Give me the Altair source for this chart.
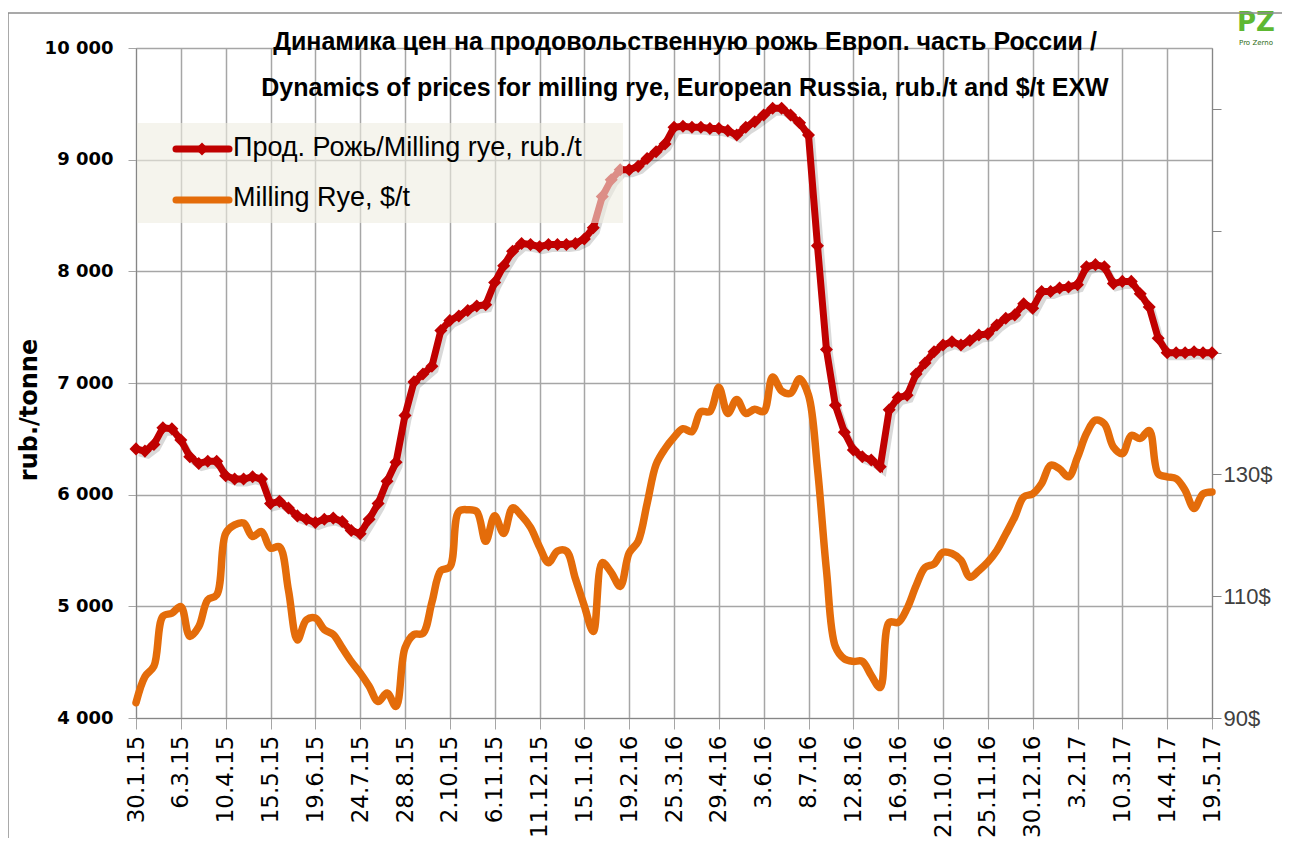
import json
import altair as alt
import pandas as pd

tick_labels = ["30.1.15", "6.3.15", "10.4.15", "15.5.15", "19.6.15", "24.7.15", "28.8.15",
               "2.10.15", "6.11.15", "11.12.15", "15.1.16", "19.2.16", "25.3.16", "29.4.16",
               "3.6.16", "8.7.16", "12.8.16", "16.9.16", "21.10.16", "25.11.16", "30.12.16",
               "3.2.17", "10.3.17", "14.4.17", "19.5.17"]

rub = [6410, 6390, 6450, 6600, 6590, 6490, 6340, 6280, 6300, 6300,
       6170, 6140, 6140, 6160, 6140, 5920, 5940, 5880, 5810, 5780,
       5750, 5780, 5790, 5760, 5680, 5650, 5780, 5920, 6120, 6290,
       6710, 7010, 7080, 7150, 7470, 7560, 7600, 7650, 7690, 7700,
       7900, 8050, 8180, 8250, 8240, 8220, 8240, 8240, 8240, 8250,
       8290, 8390, 8670, 8820, 8910, 8910, 8940, 9010, 9070, 9140,
       9290, 9300, 9290, 9290, 9280, 9280, 9260, 9220, 9290, 9340,
       9400, 9460, 9460, 9400, 9330, 9220, 8230, 7300, 6800, 6560,
       6400, 6340, 6310, 6250, 6760, 6870, 6890, 7080, 7180, 7280,
       7340, 7370, 7340, 7380, 7430, 7440, 7520, 7580, 7610, 7710,
       7670, 7820, 7820, 7850, 7860, 7880, 8040, 8060, 8040, 7890,
       7910, 7910, 7800, 7680, 7400, 7270, 7270, 7270, 7280, 7270,
       7270]

usd = [92.5, 96.8, 98.5, 106.7, 107.2, 108.3, 103.4, 105.0, 109.4, 110.2,
       120.3, 121.7, 122.0, 119.8, 120.6, 117.9, 118.1, 111.0, 102.8, 106.1,
       106.4, 104.5, 103.7, 101.5, 99.3, 97.4, 95.2, 92.7, 94.1, 91.9,
       101.5, 103.7, 103.9, 109.0, 114.2, 114.8, 123.9, 124.2, 123.9, 119.0,
       123.2, 120.3, 124.5, 123.2, 121.3, 118.1, 115.5, 117.4, 117.4, 112.9,
       108.4, 104.2, 115.5, 113.9, 111.6, 117.1, 119.0, 125.2, 131.6, 134.2,
       136.1, 137.5, 137.0, 140.3, 140.3, 144.3, 140.0, 142.3, 140.0, 140.7,
       140.3, 146.0, 143.7, 143.3, 145.7, 143.0, 131.0, 114.3, 101.7, 99.7,
       99.3, 99.3, 97.0, 95.0, 105.7, 105.7, 108.0, 111.7, 114.7, 115.3,
       117.2, 117.0, 115.9, 113.1, 114.2, 115.6, 117.5, 120.2, 123.0, 126.3,
       126.8, 128.5, 131.5, 130.9, 129.6, 132.8, 136.7, 138.9, 138.3, 134.5,
       133.4, 136.4, 135.9, 137.2, 130.1, 129.6, 129.3, 127.4, 124.4, 126.8,
       127.1]

week = list(range(len(rub)))
df = pd.DataFrame({"week": week, "rub": rub, "usd": usd})
one = pd.DataFrame({"a": [0]})

W, H = 1076, 670
RED = "#C00000"
ORANGE = "#E46C0A"
GRID = "#A6A6A6"
NARROW = "Liberation Sans Narrow, Arial Narrow, Liberation Sans, sans-serif"

x_enc = alt.X(
    "week:Q",
    scale=alt.Scale(domain=[0, 120], nice=False, zero=False),
    axis=alt.Axis(
        values=list(range(0, 121, 5)),
        labelExpr=json.dumps(tick_labels, ensure_ascii=False) + "[round(datum.value / 5)]",
        labelAngle=270, labelFont="DejaVu Sans", labelFontSize=23, labelColor="black",
        labelPadding=6, tickSize=11, tickColor=GRID, domainColor="#868686",
        grid=True, gridColor=GRID, gridWidth=1.5, title=None, labelOverlap=False,
    ),
)

y_rub = alt.Y(
    "rub:Q",
    scale=alt.Scale(domain=[4000, 10000], nice=False, zero=False),
    axis=alt.Axis(
        values=list(range(4000, 10001, 1000)),
        labelExpr="replace(format(datum.value, ','), ',', ' ')",
        labelFont="DejaVu Sans", labelFontWeight="bold", labelFontSize=18, labelColor="black",
        tickSize=8, tickColor=GRID, domainColor="#868686", labelPadding=15,
        grid=True, gridColor=GRID, gridWidth=1.5, title=None,
    ),
)

red_shadow = alt.Chart(df).mark_line(color="black", opacity=0.15, strokeWidth=7,
                                     xOffset=3, yOffset=4).encode(x=x_enc, y=y_rub)
red_line = alt.Chart(df).mark_line(color=RED, strokeWidth=7).encode(x=x_enc, y=y_rub)
red_pts = alt.Chart(df).mark_point(shape="diamond", filled=True, size=170, color=RED,
                                   opacity=1).encode(x=x_enc, y=y_rub)
red = alt.layer(red_shadow, red_line, red_pts)

orange = alt.Chart(df).mark_line(color=ORANGE, strokeWidth=7.5, interpolate="catmull-rom",
                                 strokeCap="round").encode(
    x=x_enc,
    y=alt.Y(
        "usd:Q",
        scale=alt.Scale(domain=[90, 200], nice=False, zero=False),
        axis=alt.Axis(
            orient="right", values=[90, 110, 130, 150, 170, 190],
            labelExpr="datum.value <= 130 ? datum.value + '$' : ''",
            labelFont=NARROW, labelFontSize=22, labelColor="#404040",
            tickSize=9, tickColor="#868686", domainColor="#868686", labelPadding=2,
            grid=False, title=None,
        ),
    ),
)

# legend (hand drawn, semi-transparent box over the lines)
leg_box = alt.Chart(one).mark_rect(fill="#EEECE1", opacity=0.6).encode(
    x=alt.value(1), x2=alt.value(487), y=alt.value(75), y2=alt.value(175))
leg_red = alt.Chart(one).mark_rule(color=RED, strokeWidth=7, strokeCap="round").encode(
    x=alt.value(40), x2=alt.value(93), y=alt.value(101))
leg_red_pt = alt.Chart(one).mark_point(shape="diamond", filled=True, size=170, color=RED,
                                       opacity=1).encode(x=alt.value(66), y=alt.value(101))
leg_or = alt.Chart(one).mark_rule(color=ORANGE, strokeWidth=7, strokeCap="round").encode(
    x=alt.value(40), x2=alt.value(93), y=alt.value(152))
leg_t1 = alt.Chart(one).mark_text(text="Прод. Рожь/Milling rye, rub./t", align="left",
                                  baseline="middle", font=NARROW, fontSize=27,
                                  color="black").encode(x=alt.value(97), y=alt.value(100))
leg_t2 = alt.Chart(one).mark_text(text="Milling Rye, $/t", align="left",
                                  baseline="middle", font=NARROW, fontSize=27,
                                  color="black").encode(x=alt.value(97), y=alt.value(150))

# title
t1 = alt.Chart(one).mark_text(
    text="Динамика цен на продовольственную рожь Европ. часть России /",
    align="center", baseline="middle", font=NARROW, fontSize=25, fontWeight="bold",
    color="black").encode(x=alt.value(549), y=alt.value(-6))
t2 = alt.Chart(one).mark_text(
    text="Dynamics of prices for milling rye, European Russia, rub./t and $/t EXW",
    align="center", baseline="middle", font=NARROW, fontSize=25, fontWeight="bold",
    color="black").encode(x=alt.value(549), y=alt.value(40))

ytitle = alt.Chart(one).mark_text(
    text="rub./tonne", angle=270, align="center", baseline="middle",
    font="DejaVu Sans", fontSize=24, fontWeight="bold", color="black").encode(
    x=alt.value(-106), y=alt.value(362))

logo = alt.Chart(one).mark_text(
    text="PZ", align="center", baseline="middle", font="DejaVu Sans", fontSize=26,
    fontWeight="bold", color="#5DB832").encode(x=alt.value(1120), y=alt.value(-25))
logo2 = alt.Chart(one).mark_text(
    text="Pro Zerno", align="center", baseline="middle", font="DejaVu Sans", fontSize=7,
    color="#2E6B12").encode(x=alt.value(1120), y=alt.value(-5))

frame_l = alt.Chart(one).mark_rule(color="#8C8C8C", strokeWidth=1.5).encode(
    x=alt.value(-128), y=alt.value(-35), y2=alt.value(810))
frame_t = alt.Chart(one).mark_rule(color="#8C8C8C", strokeWidth=1.5).encode(
    x=alt.value(-128), x2=alt.value(1146), y=alt.value(-35))

chart = alt.layer(
    red, orange, leg_box, leg_red, leg_red_pt, leg_or, leg_t1, leg_t2,
    t1, t2, ytitle, logo, logo2, frame_l, frame_t,
).resolve_scale(y="independent").properties(
    width=W, height=H,
    autosize=alt.AutoSizeParams(type="none"),
    padding={"left": 128, "top": 40, "right": 70, "bottom": 120},
).configure_view(stroke=None).configure(background="white")

chart.save("out.html", embed_options={"renderer": "svg", "actions": False})
